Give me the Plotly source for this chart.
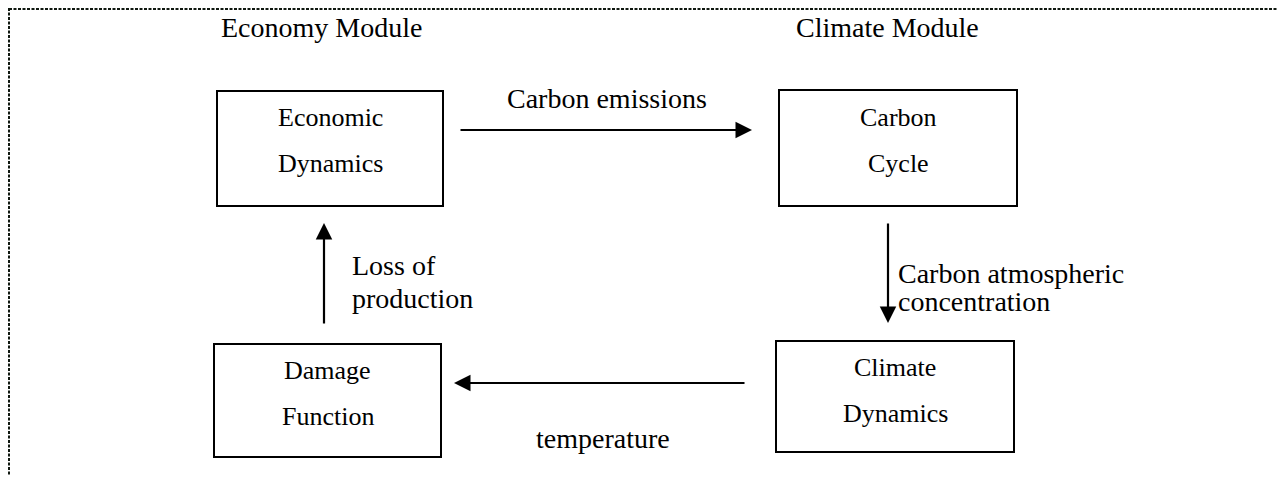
import plotly.graph_objects as go

W, H = 1285, 483
PAGE_MARGIN = 8  # default body margin of the html page

# Diagram content (coordinates in reference pixel space)
module_titles = ["Economy Module", "Climate Module"]
module_title_x = [321, 887]
module_title_y = [27, 27]

box_labels = [["Economic", "Dynamics"], ["Carbon", "Cycle"],
              ["Climate", "Dynamics"], ["Damage", "Function"]]
box_x0 = [217, 779, 776, 214]
box_x1 = [443, 1017, 1014, 441]
box_y0 = [91, 90, 341, 344]
box_y1 = [206, 206, 452, 457]
box_line1_y = [117, 117, 367, 370]
box_line2_y = [163, 163, 413, 416]

arrow_tail_x = [459, 888, 746, 324]
arrow_tail_y = [130, 222, 383, 325]
arrow_tip_x = [752, 888, 454, 324]
arrow_tip_y = [130, 323, 383, 223]

flow_labels = [["Carbon emissions"], ["Carbon atmospheric", "concentration"],
               ["temperature"], ["Loss of", "production"]]
flow_label_x = [607, 896, 603, 350]
flow_label_y = [[98], [273, 301], [438], [265, 298]]
flow_label_anchor = ["center", "left", "center", "left"]

FONT = "Liberation Serif, Times New Roman, serif"

FW, FH = W - 2 * PAGE_MARGIN, H - 2 * PAGE_MARGIN

fig = go.Figure()
fig.add_trace(go.Scatter(x=[PAGE_MARGIN, W], y=[PAGE_MARGIN, H], mode="markers",
                         marker=dict(opacity=0), hoverinfo="skip", showlegend=False))

shapes = []
# dashed outer frame
shapes.append(dict(type="rect", xref="x", yref="y", x0=9, y0=9, x1=W + 30, y1=H + 30,
                   line=dict(color="#101810", width=2, dash="3px,1.5px"), layer="below"))
for x0, x1, y0, y1 in zip(box_x0, box_x1, box_y0, box_y1):
    shapes.append(dict(type="rect", xref="x", yref="y", x0=x0, x1=x1, y0=y0, y1=y1,
                       line=dict(color="black", width=2)))

annotations = []
for t, x, y in zip(module_titles, module_title_x, module_title_y):
    annotations.append(dict(x=x, y=y, xref="x", yref="y", text=t, showarrow=False,
                            xanchor="center", yanchor="middle",
                            font=dict(family=FONT, size=28, color="black")))
for lines, x0, x1, ya, yb in zip(box_labels, box_x0, box_x1, box_line1_y, box_line2_y):
    cx = (x0 + x1) / 2
    for t, y in zip(lines, [ya, yb]):
        annotations.append(dict(x=cx, y=y, xref="x", yref="y", text=t, showarrow=False,
                                xanchor="center", yanchor="middle",
                                font=dict(family=FONT, size=26, color="black")))
for tx, ty, hx, hy in zip(arrow_tail_x, arrow_tail_y, arrow_tip_x, arrow_tip_y):
    annotations.append(dict(x=hx, y=hy, ax=tx, ay=ty, xref="x", yref="y",
                            axref="x", ayref="y", text="", showarrow=True,
                            arrowhead=2, arrowsize=1.5, arrowwidth=2.2,
                            arrowcolor="black", standoff=0, startstandoff=0))
for lines, x, ys, anc in zip(flow_labels, flow_label_x, flow_label_y, flow_label_anchor):
    for t, y in zip(lines, ys):
        annotations.append(dict(x=x, y=y, xref="x", yref="y", text=t, showarrow=False,
                                xanchor=anc, yanchor="middle",
                                font=dict(family=FONT, size=28, color="black")))

fig.update_layout(
    width=FW, height=FH, margin=dict(l=0, r=0, t=0, b=0),
    paper_bgcolor="white", plot_bgcolor="white",
    xaxis=dict(range=[PAGE_MARGIN, PAGE_MARGIN + FW], visible=False, fixedrange=True),
    yaxis=dict(range=[PAGE_MARGIN + FH, PAGE_MARGIN], visible=False, fixedrange=True),
    shapes=shapes, annotations=annotations, showlegend=False,
)
fig.write_html("out.html", config={"displayModeBar": False})
